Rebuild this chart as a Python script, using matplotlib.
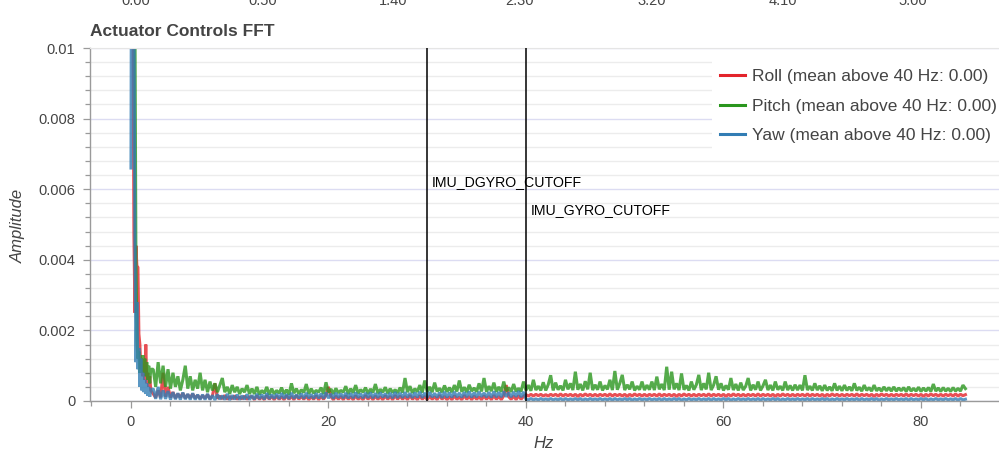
import numpy as np
import matplotlib
matplotlib.use('Agg')
import matplotlib.pyplot as plt
from matplotlib.ticker import MultipleLocator

plt.rcParams['font.family'] = ['Liberation Sans', 'DejaVu Sans']

# ---------------- text ----------------
TITLE = 'Actuator Controls FFT'
X_LABEL = 'Hz'
Y_LABEL = 'Amplitude'
SERIES_NAMES = ['Roll (mean above 40 Hz: 0.00)',
                'Pitch (mean above 40 Hz: 0.00)',
                'Yaw (mean above 40 Hz: 0.00)']
CUTOFF_NAMES = ['IMU_DGYRO_CUTOFF', 'IMU_GYRO_CUTOFF']
CUTOFF_HZ = [30.0, 40.0]
CUTOFF_LABEL_AMP = [0.0062, 0.0054]
TOP_TICK_LABELS = ['0.00', '0.50', '1.40', '2.30', '3.20', '4.10', '5.00']
Y_TICKS = [0, 0.002, 0.004, 0.006, 0.008, 0.01]
Y_TICK_LABELS = ['0', '0.002', '0.004', '0.006', '0.008', '0.01']
X_TICKS = [0, 20, 40, 60, 80]

# ---------------- data (amplitudes in units of 1e-4) ----------------
AMP_UNIT = 1e-4
freq_head = [0.0, 0.1, 0.2, 0.3, 0.4, 0.5, 0.6, 0.7, 0.8, 0.9, 1.0,
             1.1, 1.2, 1.3, 1.4, 1.5, 1.6, 1.7, 1.8, 1.9, 2.0]
freq_tail = np.arange(2.25, 84.75, 0.25)   # FFT bins 2.25 ... 84.5 Hz (330)

roll_head = [120, 200, 110, 47, 25, 44, 38, 38, 19, 16, 9,
             12, 7, 10, 6, 16, 5, 8, 4, 7, 3]
pitch_head = [150, 300, 250, 160, 110, 40, 17, 12, 14, 8, 12,
              9, 13, 8, 12, 7, 11, 6, 10, 5, 9]
yaw_head = [66, 200, 180, 110, 45, 11, 28, 9, 15, 4, 12,
            3, 8, 2.5, 6, 2, 5, 1.5, 4, 1.2, 3]

# each row = 20 bins = 5 Hz
roll_tail = [
    2, 1, 3, 1, 8, 1.2, 4, 1, 2.5, 0.8, 2, 1, 2.2, 0.8, 1.8, 0.9, 2, 0.8, 1.6, 0.7,
    1.5, 0.8, 1.8, 0.6, 1.5, 5, 0.7, 1.4, 0.6, 1.6, 0.5, 1.3, 0.6, 1.5, 0.5, 1.2, 0.6, 1.4, 0.5, 1.2,
    1.2, 0.4, 1.5, 0.5, 1.1, 0.4, 1.6, 0.5, 1.3, 0.4, 1.4, 0.5, 1.2, 0.4, 1.5, 0.5, 1.3, 0.4, 1.6, 0.5,
    1.3, 0.5, 1.4, 0.4, 1.2, 0.5, 1.5, 0.4, 1.3, 0.5, 1.6, 4, 1.2, 0.4, 1.4, 0.5, 1.3, 0.4, 1.5, 0.5,
    1.2, 0.4, 1.5, 0.5, 1.1, 0.4, 1.6, 0.5, 1.3, 0.4, 1.4, 0.5, 1.2, 0.4, 1.5, 0.5, 1.3, 0.4, 1.6, 0.5,
    1.4, 0.5, 1.3, 0.4, 1.6, 0.5, 1.2, 0.4, 1.5, 0.5, 1.3, 0.4, 1.4, 0.5, 1.2, 0.4, 1.6, 0.5, 1.3, 0.4,
    1.2, 0.4, 1.5, 0.5, 1.1, 0.4, 1.6, 0.5, 1.3, 0.4, 1.4, 0.5, 1.2, 0.4, 1.5, 0.5, 1.3, 0.4, 1.6, 0.5,
    1.3, 0.4, 1.5, 4.5, 1.2, 0.5, 1.4, 0.4, 1.5, 0.5, 1.3, 1.8, 1.4, 1.9, 1.4, 1.9, 1.5, 1.9, 1.4, 1.8,
    1.4, 1.9, 1.5, 1.9, 1.4, 2.0, 1.4, 1.9, 1.5, 1.9, 1.4, 1.9, 1.3, 1.9, 1.4, 2.0, 1.5, 1.9, 1.4, 1.9,
    1.4, 1.9, 1.5, 1.9, 1.4, 2.0, 1.4, 1.9, 1.5, 1.9, 1.4, 1.9, 1.3, 1.9, 1.4, 2.0, 1.5, 1.9, 1.4, 1.9,
    1.4, 1.9, 1.5, 1.9, 1.4, 2.0, 1.4, 1.9, 1.5, 1.9, 1.4, 1.9, 1.3, 1.9, 1.4, 2.0, 1.5, 1.9, 1.4, 1.9,
    1.4, 1.9, 1.5, 1.9, 1.4, 2.0, 1.4, 1.9, 1.5, 1.9, 1.4, 1.9, 1.3, 1.9, 1.4, 2.0, 1.5, 1.9, 1.4, 1.9,
    1.4, 1.9, 1.5, 1.9, 1.4, 2.0, 1.4, 1.9, 1.5, 1.9, 1.4, 1.9, 1.3, 1.9, 1.4, 2.0, 1.5, 1.9, 1.4, 1.9,
    1.4, 1.9, 1.5, 1.9, 1.4, 2.0, 1.4, 1.9, 1.5, 1.9, 1.4, 1.9, 1.3, 1.9, 1.4, 2.0, 1.5, 1.9, 1.4, 1.9,
    1.4, 1.9, 1.5, 1.9, 1.4, 2.0, 1.4, 1.9, 1.5, 1.9, 1.4, 1.9, 1.3, 1.9, 1.4, 2.0, 1.5, 1.9, 1.4, 1.9,
    1.4, 1.9, 1.5, 1.9, 1.4, 2.0, 1.4, 1.9, 1.5, 1.9, 1.4, 1.9, 1.3, 1.9, 1.4, 2.0, 1.5, 1.9, 1.4, 1.9,
    1.4, 1.9, 1.5, 1.9, 1.4, 2.0, 1.4, 1.9, 1.5, 1.8,
]
pitch_tail = [
    9, 4, 11, 5, 10, 4, 9, 3.5, 8, 4, 7, 3, 6, 10, 3.5, 7, 3, 6, 3.5, 8,
    3, 6, 2.5, 5.5, 3, 5, 2.5, 4.5, 6.5, 2.5, 4, 2, 4.5, 2.5, 4, 2, 3.5, 2.5, 4.5, 2,
    3.5, 2, 4, 1.8, 3, 2.2, 4, 1.8, 3.5, 2, 3, 2.2, 3.8, 2, 3.2, 1.8, 5, 2.2, 3.5, 2,
    3.2, 2.4, 4.8, 2, 3.5, 2.2, 3, 2.5, 3.8, 2, 5.3, 2.4, 3.4, 2, 3.6, 2.3, 3, 2.5, 4.2, 2,
    3.5, 2.3, 4.5, 2.2, 3.2, 2.5, 3.8, 2.1, 3.4, 2.4, 4.8, 2.2, 3.3, 2.5, 3.9, 2.2, 3.5, 2.4, 3.2, 2.3,
    3.8, 2.4, 6.5, 2.5, 4.2, 2.3, 3.5, 2.6, 4.5, 2.4, 5.8, 2.6, 4, 2.5, 5.2, 2.7, 3.6, 2.5, 4.4, 2.6,
    3.8, 2.5, 4.5, 2.7, 5.8, 2.6, 3.9, 2.5, 4.6, 2.8, 3.7, 2.6, 5, 2.7, 6.5, 2.6, 4.2, 2.8, 5.2, 2.6,
    4, 2.6, 5.5, 2.8, 3.8, 2.6, 4.8, 2.7, 3.6, 2.7, 5.5, 3, 4.5, 2.9, 6, 3.1, 4.2, 3, 5.3, 3,
    4.6, 7.3, 3, 5.2, 3.2, 4.3, 3, 6, 3.3, 5, 3.1, 8.3, 3.2, 4.8, 3, 5.6, 3.3, 8, 3.1, 4.6,
    3.2, 5.5, 3, 4.4, 3.3, 6, 3.1, 8.5, 3.2, 5, 7.4, 3.1, 4.6, 3.3, 5.5, 3, 4.2, 3.2, 5.5, 3.1,
    4.5, 3.2, 5.5, 3.1, 6.9, 3.3, 4.8, 3.1, 9.7, 3.2, 8.3, 3.3, 5, 3.1, 7.8, 3.2, 4.4, 3, 5.5, 3.2,
    4.6, 7.4, 3.1, 5, 3.3, 8, 3.1, 4.5, 7, 3.2, 5, 3, 4.4, 3.2, 6.5, 3.1, 4.8, 3, 5.2, 3.1,
    4.2, 6.5, 3, 4.6, 3.2, 5.5, 3, 4.3, 6, 3.1, 4.5, 3, 5.5, 3.2, 4.2, 3, 5.5, 3.1, 4.4, 3,
    4.6, 3.1, 4.5, 3, 7.3, 3.1, 4.2, 3, 5, 3.1, 4.3, 2.9, 4.5, 3, 4, 2.9, 5, 3, 4.2, 2.9,
    4.5, 3, 4, 2.9, 5, 3, 3.9, 2.8, 4.5, 3, 3.8, 2.8, 4.5, 2.9, 3.7, 2.8, 4, 2.9, 3.8, 2.8,
    4, 2.8, 3.7, 2.9, 3.8, 2.7, 4, 2.8, 3.6, 2.8, 3.9, 2.7, 3.7, 2.8, 3.8, 2.7, 4.8, 2.8, 3.7, 2.7,
    3.8, 2.8, 3.6, 2.7, 3.8, 2.8, 3.6, 2.8, 4.5, 3.5,
]
yaw_tail = [
    3.5, 0.6, 4, 0.5, 3, 0.6, 2.8, 0.4, 2.5, 0.5, 2.2, 0.4, 2.4, 0.5, 2, 0.4, 2.2, 0.4, 1.8, 0.4,
    1.8, 0.4, 2, 0.4, 1.6, 0.3, 1.9, 0.5, 1.5, 0.4, 2, 0.3, 1.6, 0.5, 1.8, 0.4, 1.5, 0.5, 1.9, 0.4,
    1.6, 0.5, 2, 0.6, 1.8, 0.5, 2.2, 0.6, 1.8, 0.7, 2, 0.6, 2.2, 0.7, 1.9, 0.6, 2.3, 0.7, 1.8, 0.8,
    2.1, 0.7, 2.3, 0.8, 1.9, 0.7, 2.2, 0.8, 2.1, 0.7, 2.4, 0.8, 2, 0.7, 2.3, 0.9, 2.1, 0.8, 2.3, 0.8,
    2.2, 0.8, 2.4, 0.9, 2.1, 0.8, 2.3, 0.9, 2.4, 0.8, 2.2, 0.9, 2.4, 1, 2.1, 0.9, 2.3, 0.8, 2.5, 0.9,
    2.3, 0.9, 2.5, 1, 2.2, 0.9, 2.4, 1, 2.6, 0.9, 2.3, 1, 2.5, 1.1, 2.2, 1, 2.4, 0.9, 2.6, 1,
    2.4, 1, 2.6, 1.1, 2.3, 1, 2.5, 1.1, 2.7, 1, 2.4, 1.1, 2.6, 1.2, 2.3, 1.1, 2.5, 1, 2.7, 1.1,
    2.5, 1.1, 2.7, 1.2, 2.4, 1.1, 2.6, 1.2, 2.8, 1.1, 2.6, 0.5, 0.3, 0.7, 0.3, 0.6, 0.3, 0.7, 0.3, 0.6,
    0.3, 0.7, 0.3, 0.6, 0.3, 0.7, 0.2, 0.7, 0.3, 0.6, 0.3, 0.7, 0.3, 0.7, 0.2, 0.6, 0.3, 0.7, 0.3, 0.6,
    0.3, 0.7, 0.3, 0.6, 0.3, 0.7, 0.2, 0.7, 0.3, 0.6, 0.3, 0.7, 0.3, 0.7, 0.2, 0.6, 0.3, 0.7, 0.3, 0.6,
    0.3, 0.7, 0.3, 0.6, 0.3, 0.7, 0.2, 0.7, 0.3, 0.6, 0.3, 0.7, 0.3, 0.7, 0.2, 0.6, 0.3, 0.7, 0.3, 0.6,
    0.3, 0.7, 0.3, 0.6, 0.3, 0.7, 0.2, 0.7, 0.3, 0.6, 0.3, 0.7, 0.3, 0.7, 0.2, 0.6, 0.3, 0.7, 0.3, 0.6,
    0.3, 0.7, 0.3, 0.6, 0.3, 0.7, 0.2, 0.7, 0.3, 0.6, 0.3, 0.7, 0.3, 0.7, 0.2, 0.6, 0.3, 0.7, 0.3, 0.6,
    0.3, 0.7, 0.3, 0.6, 0.3, 0.7, 0.2, 0.7, 0.3, 0.6, 0.3, 0.7, 0.3, 0.7, 0.2, 0.6, 0.3, 0.7, 0.3, 0.6,
    0.3, 0.7, 0.3, 0.6, 0.3, 0.7, 0.2, 0.7, 0.3, 0.6, 0.3, 0.7, 0.3, 0.7, 0.2, 0.6, 0.3, 0.7, 0.3, 0.6,
    0.3, 0.7, 0.3, 0.6, 0.3, 0.7, 0.2, 0.7, 0.3, 0.6, 0.3, 0.7, 0.3, 0.7, 0.2, 0.6, 0.3, 0.7, 0.3, 0.6,
    0.3, 0.7, 0.3, 0.6, 0.3, 0.7, 0.2, 0.7, 0.3, 0.5,
]

freq = np.concatenate([freq_head, freq_tail])
series = [np.array(roll_head + roll_tail) * AMP_UNIT,
          np.array(pitch_head + pitch_tail) * AMP_UNIT,
          np.array(yaw_head + yaw_tail) * AMP_UNIT]

# ---------------- style ----------------
COLORS = ['#e3242b', '#2a961e', '#327db4']
TXT = '#444444'
W, H = 999, 453
AX_L, AX_R, AX_T, AX_B = 90, 999, 48, 401

fig = plt.figure(figsize=(W / 100, H / 100), dpi=100)
ax = fig.add_axes([AX_L / W, 1 - AX_B / H, (AX_R - AX_L) / W, (AX_B - AX_T) / H])

for vals, name, col in zip(series, SERIES_NAMES, COLORS):
    n = min(len(vals), len(freq))
    ax.plot(freq[:n], vals[:n], color=col, lw=2.2, alpha=0.8, label=name,
            solid_joinstyle='bevel', zorder=2)

for hz in CUTOFF_HZ:
    ax.axvline(hz, color='black', lw=1.1, zorder=3)
for hz, amp, name in zip(CUTOFF_HZ, CUTOFF_LABEL_AMP, CUTOFF_NAMES):
    ax.text(hz + 0.5, amp, name, ha='left', va='center', fontsize=10.2,
            color='black', zorder=4)

ax.set_xlim(-4.15, 87.9)
ax.set_ylim(0, 0.01)
ax.set_xticks(X_TICKS)
ax.set_yticks(Y_TICKS, labels=Y_TICK_LABELS)
ax.xaxis.set_minor_locator(MultipleLocator(4))
ax.yaxis.set_minor_locator(MultipleLocator(0.0004))

ax.yaxis.grid(True, which='major', color='#dcdcf2', lw=1.0)
ax.yaxis.grid(True, which='minor', color='#ececec', lw=1.0)
ax.xaxis.grid(False, which='both')
ax.set_axisbelow(True)

for s in ['left', 'bottom']:
    ax.spines[s].set_color('#9a9a9a')
    ax.spines[s].set_linewidth(1.0)
ax.spines['top'].set_color('#e5e5e5')
ax.spines['right'].set_visible(False)

ax.tick_params(which='major', length=5, width=0.9, color='#9a9a9a',
               labelcolor=TXT, labelsize=10.5)
ax.tick_params(which='minor', length=3.3, width=0.9, color='#9a9a9a')
ax.tick_params(axis='y', pad=5.5)
ax.tick_params(axis='x', pad=5)

leg = ax.legend(loc='upper left', bbox_to_anchor=((712 - AX_L) / (AX_R - AX_L),
                                                  (AX_B - 61) / (AX_B - AX_T)),
                borderaxespad=0, borderpad=0.45, fontsize=12.5,
                handlelength=1.45, handletextpad=0.4, labelspacing=0.84,
                frameon=True, fancybox=False, framealpha=1.0)
leg.get_frame().set_facecolor('white')
leg.get_frame().set_edgecolor('none')
for t in leg.get_texts():
    t.set_color(TXT)
for l in leg.get_lines():
    l.set_linewidth(2.2)
    l.set_alpha(1.0)

fig.text(AX_L / W, 1 - 32 / H, TITLE, ha='left', va='center',
         fontsize=12.5, fontweight='bold', color=TXT)
fig.text(18 / W, 1 - 226 / H, Y_LABEL, rotation=90, ha='center', va='center',
         fontsize=12, fontstyle='italic', color=TXT)
fig.text(544 / W, 1 - 444 / H, X_LABEL, ha='center', va='center',
         fontsize=12, fontstyle='italic', color=TXT)

# tick labels of the chart above, cut off at the top edge as in the reference
TOP_LABEL_X = [136, 263, 393, 520, 652, 783, 913]
for xp, lab in zip(TOP_LABEL_X, TOP_TICK_LABELS):
    fig.text(xp / W, 1 - 5 / H, lab, ha='center', va='baseline',
             fontsize=10.5, color=TXT)

fig.savefig('out.png', dpi=100)
